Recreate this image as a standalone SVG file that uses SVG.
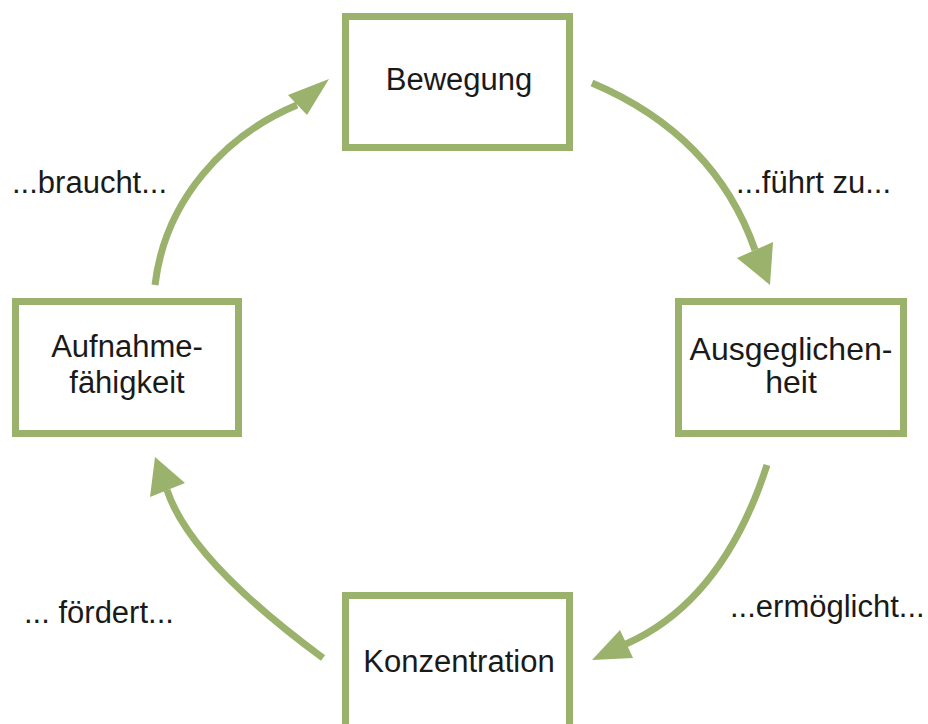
<svg xmlns="http://www.w3.org/2000/svg" width="928" height="724" viewBox="0 0 928 724">
  <style>
    .box { fill: #ffffff; stroke: #9AB26B; stroke-width: 7; }
    .txt { font-family: "Liberation Sans", Arial, sans-serif; font-size: 31px; fill: #1a1a1a; }
    .mid { text-anchor: middle; }
    .arc { fill: none; stroke: #9AB26B; stroke-width: 7; }
    .head { fill: #9AB26B; stroke: none; }
  </style>
  <rect width="928" height="724" fill="#ffffff"/>

  <g id="connectors">
    <g id="e-bewegung-ausgeglichenheit">
      <path class="arc" d="M592,83 Q715,135 755,250"/>
      <polygon class="head" points="737,258 773,242 770,285"/>
    </g>
    <g id="e-ausgeglichenheit-konzentration">
      <path class="arc" d="M767,465 Q723,601 626,644"/>
      <polygon class="head" points="620,630 633,658 592,660"/>
    </g>
    <g id="e-konzentration-aufnahme">
      <path class="arc" d="M323,658 Q190,560 167,490"/>
      <polygon class="head" points="185,483 150,497 155,457"/>
    </g>
    <g id="e-aufnahme-bewegung">
      <path class="arc" d="M155,285 C165,200 225,135 297,105"/>
      <polygon class="head" points="288,95 307,115 329,79"/>
    </g>
  </g>

  <g id="labels">
    <text class="txt" x="12" y="193">...braucht...</text>
    <text class="txt" x="736" y="193">...führt zu...</text>
    <text class="txt" x="730" y="617">...ermöglicht...</text>
    <text class="txt" x="24" y="623">... fördert...</text>
  </g>

  <g id="bewegung">
    <rect class="box" x="345.5" y="16.5" width="224" height="131"/>
    <text class="txt mid" x="459" y="90">Bewegung</text>
  </g>
  <g id="ausgeglichenheit">
    <rect class="box" x="678.5" y="301.5" width="225" height="132"/>
    <text class="txt mid" x="791" y="360" style="font-size:32px">Ausgeglichen-</text>
    <text class="txt mid" x="791" y="393" style="font-size:32px">heit</text>
  </g>
  <g id="konzentration">
    <rect class="box" x="345.5" y="595.5" width="224" height="135"/>
    <text class="txt mid" x="459" y="672">Konzentration</text>
  </g>
  <g id="aufnahmefaehigkeit">
    <rect class="box" x="15.5" y="301.5" width="223" height="132"/>
    <text class="txt mid" x="127" y="357">Aufnahme-</text>
    <text class="txt mid" x="127" y="393">fähigkeit</text>
  </g>
</svg>
